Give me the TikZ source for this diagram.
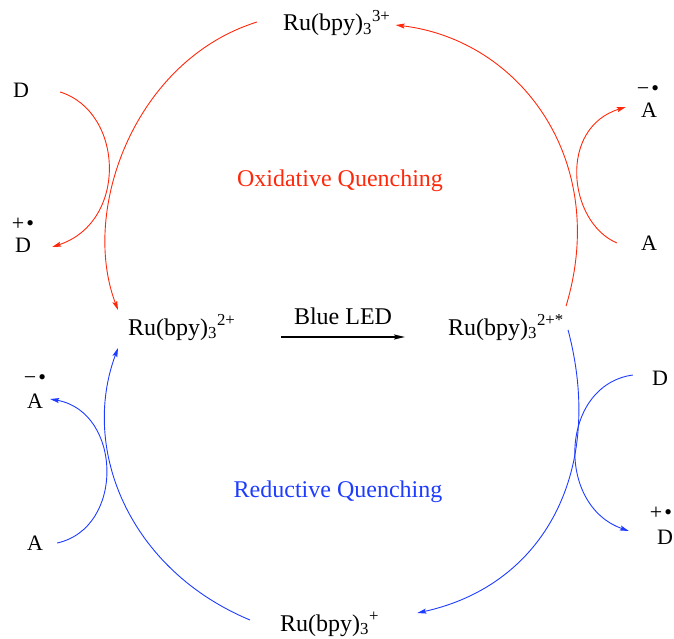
\documentclass[tikz,border=0pt]{standalone}
\usepackage{fontspec}
\setmainfont{Liberation Serif}
\usetikzlibrary{arrows.meta,positioning}
\definecolor{oxred}{RGB}{255,40,10}
\definecolor{redblue}{RGB}{30,60,255}
\begin{document}
\begin{tikzpicture}[x=1pt,y=-1pt,
    every node/.style={inner sep=0pt},
    ru/.style={font=\fontsize{24}{28}\selectfont, anchor=base west},
    lbl/.style={font=\fontsize{22}{26}\selectfont},
    chg/.style={font=\fontsize{22}{22}\selectfont},
    quench/.style={font=\fontsize{24}{28}\selectfont, anchor=base},
    oxarrow/.style={oxred, line width=0.9pt, -{Stealth[length=9pt,width=5pt,inset=1.5pt]}},
    redarrow/.style={redblue, line width=0.9pt, -{Stealth[length=9pt,width=5pt,inset=1.5pt]}}]
  \useasboundingbox (0,0) rectangle (674,639);

  % complexes
  \node[ru] (ru3) at (283,31) {Ru(bpy)\textsubscript{3}\textsuperscript{3+}};
  \node[ru] (ru2) at (128,335) {Ru(bpy)\textsubscript{3}\textsuperscript{2+}};
  \node[ru] (ru2s) at (448,335) {Ru(bpy)\textsubscript{3}\textsuperscript{2+*}};
  \node[ru] (ru1) at (280,631) {Ru(bpy)\textsubscript{3}\textsuperscript{+}};

  % excitation
  \coordinate (ledL) at (281,337);
  \coordinate (ledR) at (405,337);
  \draw[line width=1.6pt, -{Stealth[length=11pt,width=5pt,inset=2pt]}] (ledL) -- node[above=11pt, font=\fontsize{24}{28}\selectfont] (led) {Blue LED} (ledR);

  % oxidative cycle
  \node[quench, oxred] (oxq) at (340,186) {Oxidative Quenching};
  \node[lbl] (dox) at (21,90) {D};
  \node[lbl] (doxr) at (23,245) {D};
  \node[chg] (doxc) at (23,224) {+\kern2pt•};
  \node[lbl] (aox) at (649,243) {A};
  \node[lbl] (aoxr) at (649,110) {A};
  \node[chg] (aoxc) at (648,91) {−\kern2pt•};

  \draw[oxarrow] ([xshift=2pt,yshift=29pt]ru2s.base east) .. controls (610,160) and (520,40) .. ([xshift=5pt,yshift=6pt]ru3.base east);
  \draw[oxarrow] ([xshift=-26pt,yshift=9pt]ru3.base west) .. controls (135,60) and (80,210) .. ([xshift=-10pt,yshift=25pt]ru2.base west);
  \draw[oxarrow] ([xshift=31pt,yshift=-2pt]dox.east) .. controls (124,112) and (128,222) .. ([xshift=21pt,yshift=-2pt]doxr.east);
  \draw[oxarrow] ([xshift=-24pt]aox.west) .. controls (568,222) and (558,128) .. ([xshift=-15pt,yshift=3pt]aoxr.west);

  % reductive cycle
  \node[quench, redblue] (redq) at (338,497) {Reductive Quenching};
  \node[lbl] (dred) at (660,378) {D};
  \node[lbl] (dredr) at (665,537) {D};
  \node[chg] (dredc) at (661,513) {+\kern2pt•};
  \node[lbl] (ared) at (35,543) {A};
  \node[lbl] (aredr) at (35,401) {A};
  \node[chg] (aredc) at (35,380) {−\kern2pt•};

  \draw[redarrow] ([xshift=4pt,yshift=5pt]ru2s.base east) .. controls (605,470) and (545,585) .. ([xshift=38pt,yshift=18pt]ru1.base east);
  \draw[redarrow] ([xshift=-30pt,yshift=11pt]ru1.base west) .. controls (130,570) and (80,450) .. ([xshift=-10pt,yshift=-13pt]ru2.base west);
  \draw[redarrow] ([xshift=-19pt,yshift=3pt]dred.west) .. controls (560,385) and (555,505) .. ([xshift=-28pt,yshift=6pt]dredr.west);
  \draw[redarrow] ([xshift=14pt]ared.east) .. controls (125,528) and (122,412) .. ([xshift=7pt,yshift=2pt]aredr.east);
\end{tikzpicture}
\end{document}
